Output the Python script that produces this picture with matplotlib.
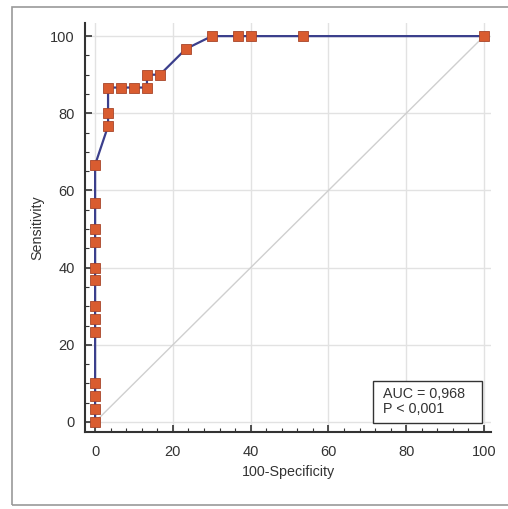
import matplotlib
matplotlib.use('Agg')
import matplotlib.pyplot as plt
from matplotlib.ticker import MultipleLocator
from matplotlib.patches import Rectangle

# ROC curve points (100-Specificity, Sensitivity)
fpr = [0, 0, 0, 0, 0, 0, 0, 0, 0, 0, 0, 0, 0,
       3.33, 3.33, 3.33, 6.67, 10.0, 13.33, 13.33, 16.67,
       23.33, 30.0, 36.67, 40.0, 53.33, 100.0]
tpr = [0, 3.33, 6.67, 10.0, 23.33, 26.67, 30.0, 36.67, 40.0, 46.67, 50.0, 56.67, 66.67,
       76.67, 80.0, 86.67, 86.67, 86.67, 86.67, 90.0, 90.0,
       96.67, 100.0, 100.0, 100.0, 100.0, 100.0]
diag = [0, 100]
ticks = [0, 20, 40, 60, 80, 100]
stats_text = 'AUC = 0,968\nP < 0,001'

plt.rcParams['font.family'] = ['Liberation Sans', 'DejaVu Sans']

fig = plt.figure(figsize=(5.08, 5.09), dpi=100)
fig.patches.append(Rectangle((12 / 508, 4 / 509), 1.2, 498 / 509, transform=fig.transFigure,
                             fill=False, edgecolor='#9a9a9a', linewidth=1.2))

ax = fig.add_axes([85 / 508, 77 / 509, 406 / 508, 409 / 509])

ax.plot(diag, diag, color='#cfcfcf', linewidth=1.0, zorder=1)
ax.plot(fpr, tpr, color='#3b3f8c', linewidth=1.6, zorder=2,
        marker='s', markersize=6.8, markerfacecolor='#d95c30',
        markeredgecolor='#a8452a', markeredgewidth=0.6)

ax.set_xlim(-2.6, 101.8)
ax.set_ylim(-2.6, 103.4)
ax.set_xticks(ticks)
ax.set_yticks(ticks)
ax.xaxis.set_minor_locator(MultipleLocator(4))
ax.yaxis.set_minor_locator(MultipleLocator(5))
ax.grid(True, which='major', color='#e2e2e2', linewidth=1.0)
ax.set_axisbelow(True)

for side in ['top', 'right']:
    ax.spines[side].set_visible(False)
for side in ['left', 'bottom']:
    ax.spines[side].set_color('#333333')
    ax.spines[side].set_linewidth(1.5)

ax.tick_params(which='major', direction='in', length=5, width=1.2, color='#333333',
               labelsize=10.5, labelcolor='#333333')
ax.tick_params(axis='x', which='major', pad=9)
ax.tick_params(axis='y', which='major', pad=7.5)
ax.tick_params(which='minor', direction='in', length=3, width=0.8, color='#333333')

ax.set_xlabel('100-Specificity', fontsize=10.3, color='#333333', labelpad=5)
ax.set_ylabel('Sensitivity', fontsize=10.3, color='#333333', labelpad=4)

# stats box in the lower right corner
ax.add_patch(Rectangle((0.709, 0.022), 0.269, 0.103, transform=ax.transAxes,
                       facecolor='white', edgecolor='#333333', linewidth=1.0, zorder=5))
ax.text(0.734, 0.0735, stats_text, transform=ax.transAxes, ha='left', va='center',
        fontsize=10.3, color='#333333', linespacing=1.1, zorder=6)

fig.savefig('out.png', dpi=100)
